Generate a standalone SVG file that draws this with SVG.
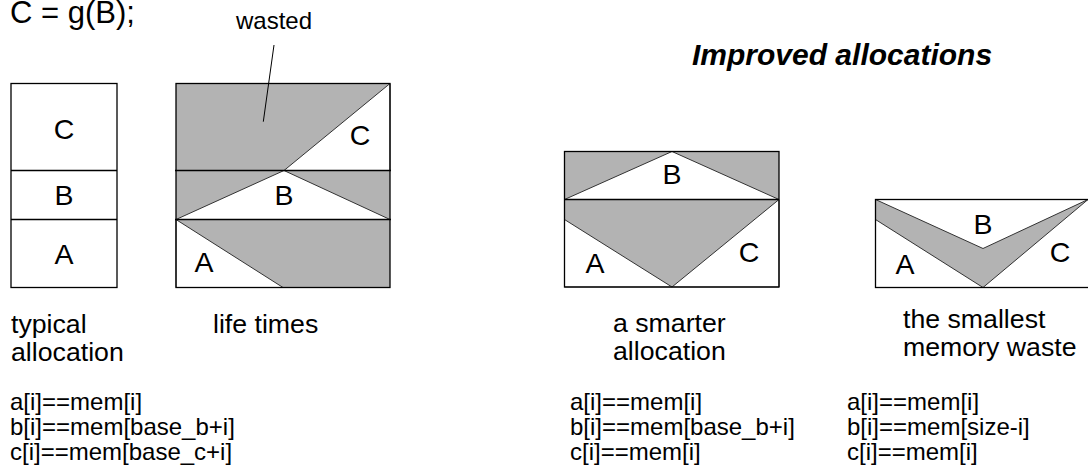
<svg xmlns="http://www.w3.org/2000/svg" width="1088" height="472" viewBox="0 0 1088 472">
  <style>
    text { font-family: "Liberation Sans", Arial, sans-serif; fill: #000; }
    .code { font-size: 24px; }
    .cap { font-size: 26.7px; }
    .big { font-size: 31px; }
    .title { font-size: 30px; font-weight: bold; font-style: italic; }
    .cell { font-size: 28.5px; text-anchor: middle; }
    .frame { fill: none; stroke: #000; stroke-width: 1.3; }
    .rule { stroke: #000; stroke-width: 1.3; }
    .waste { fill: #b3b3b3; }
    .live { fill: #fff; stroke: #333; stroke-width: 1; stroke-linejoin: round; }
    .wastepoly { fill: #b3b3b3; stroke: #333; stroke-width: 1; stroke-linejoin: round; }
    .lead { stroke: #000; stroke-width: 1; fill: none; }
  </style>

  <rect width="1088" height="472" fill="#fff"/>

  <text class="big" x="10" y="22.5">C = g(B);</text>
  <text class="title" x="692" y="65">Improved allocations</text>

  <!-- stacked allocation: A, B, C one above another -->
  <g id="typical">
    <rect class="frame" x="11" y="83.5" width="106" height="204"/>
    <line class="rule" x1="11" y1="170.5" x2="117" y2="170.5"/>
    <line class="rule" x1="11" y1="219.5" x2="117" y2="219.5"/>
    <text class="cell" x="64" y="138.5">C</text>
    <text class="cell" x="64" y="204.5">B</text>
    <text class="cell" x="64" y="263.5">A</text>
    <text class="cap" x="11" y="333">typical</text>
    <text class="cap" x="11" y="361">allocation</text>
    <text class="code" x="10" y="410">a[i]==mem[i]</text>
    <text class="code" x="10" y="435">b[i]==mem[base_b+i]</text>
    <text class="code" x="10" y="460">c[i]==mem[base_c+i]</text>
  </g>

  <!-- lifetimes inside the stacked layout -->
  <g id="lifetimes">
    <rect class="waste" x="176" y="83.5" width="214" height="204"/>
    <polygon class="live" points="284,170.5 390,83.5 390,170.5"/>
    <polygon class="live" points="176,219.5 284,170.5 390,219.5"/>
    <polygon class="live" points="176,219.5 176,287.5 283,287.5"/>
    <rect class="frame" x="176" y="83.5" width="214" height="204"/>
    <line class="rule" x1="175" y1="170.5" x2="391" y2="170.5"/>
    <line class="rule" x1="175" y1="219.5" x2="391" y2="219.5"/>
    <text class="cell" x="360" y="145">C</text>
    <text class="cell" x="284" y="204.5">B</text>
    <text class="cell" x="204" y="272">A</text>
    <text class="cap" x="213" y="333">life times</text>
    <text style="font-size:24px" x="274" y="29" text-anchor="middle">wasted</text>
  </g>

  <!-- A and C share the lower block, B sits on top -->
  <g id="smarter">
    <rect class="waste" x="564.5" y="151.5" width="214.5" height="135.5"/>
    <polygon class="live" points="564.5,199.5 672,151.5 779,199.5"/>
    <polygon class="live" points="564.5,219.5 672,287 564.5,287"/>
    <polygon class="live" points="779,199.5 779,287 672,287"/>
    <rect class="frame" x="564.5" y="151.5" width="214.5" height="135.5"/>
    <line class="rule" x1="564.5" y1="199.5" x2="779" y2="199.5"/>
    <text class="cell" x="672" y="183.5">B</text>
    <text class="cell" x="595" y="273">A</text>
    <text class="cell" x="749" y="261.5">C</text>
    <text class="cap" x="613" y="332">a smarter</text>
    <text class="cap" x="613" y="360">allocation</text>
    <text class="code" x="570" y="410">a[i]==mem[i]</text>
    <text class="code" x="570" y="435">b[i]==mem[base_b+i]</text>
    <text class="code" x="570" y="460">c[i]==mem[i]</text>
  </g>

  <!-- B grows downward from the top, A and C share the rest -->
  <g id="smallest">
    <rect fill="#fff" x="875.5" y="199.5" width="214" height="88"/>
    <polygon class="wastepoly" points="875.5,199.5 983,248.5 1088,199.5 983,287.5 875.5,219.5"/>
    <rect class="frame" x="875.5" y="199.5" width="214" height="88"/>
    <text class="cell" x="983" y="233.5">B</text>
    <text class="cell" x="905" y="273.5">A</text>
    <text class="cell" x="1060" y="262">C</text>
    <text class="cap" x="903" y="328">the smallest</text>
    <text class="cap" x="903" y="356">memory waste</text>
    <text class="code" x="847" y="410">a[i]==mem[i]</text>
    <text class="code" x="847" y="435">b[i]==mem[size-i]</text>
    <text class="code" x="847" y="460">c[i]==mem[i]</text>
  </g>

  <g id="connectors">
    <line class="lead" x1="274" y1="45" x2="263.3" y2="121.7"/>
  </g>
</svg>
